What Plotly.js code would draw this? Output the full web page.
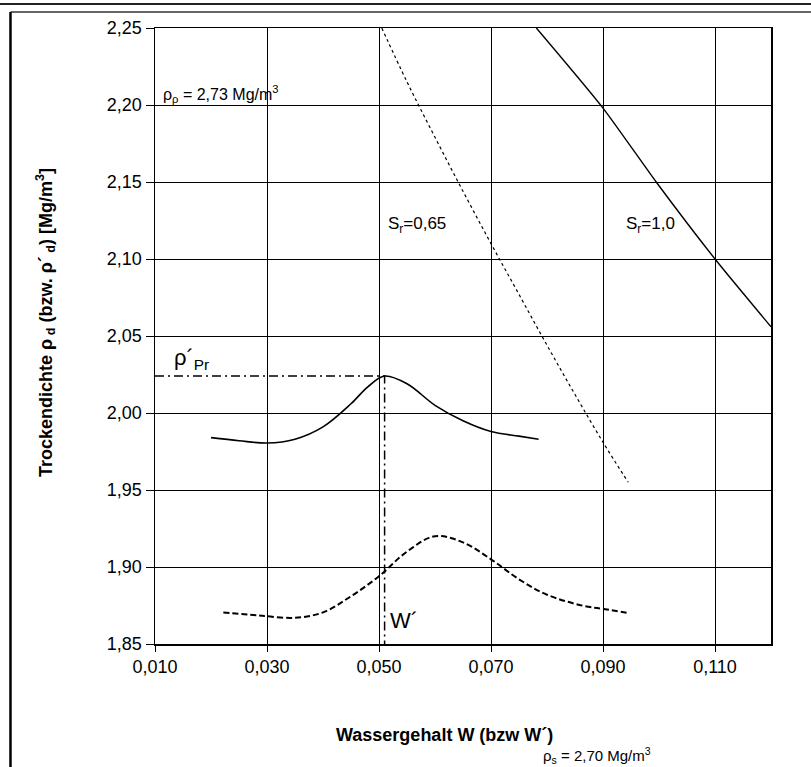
<!DOCTYPE html>
<html>
<head>
<meta charset="utf-8">
<script src="https://cdn.plot.ly/plotly-3.0.1.min.js"></script>
<style>html,body{margin:0;padding:0;background:#fff;}#chart{width:811px;height:767px;}</style>
</head>
<body>
<div id="chart"></div>
<script>
// Compaction curve W (solid)
const wX = [0.020, 0.025, 0.030, 0.035, 0.040, 0.045, 0.048, 0.051, 0.055, 0.060, 0.065, 0.070, 0.075, 0.0785];
const wY = [1.984, 1.982, 1.9805, 1.983, 1.991, 2.006, 2.017, 2.024, 2.019, 2.005, 1.995, 1.988, 1.985, 1.983];
// Compaction curve W' (dashed)
const wpX = [0.0222, 0.027, 0.030, 0.035, 0.040, 0.045, 0.050, 0.055, 0.060, 0.065, 0.070, 0.075, 0.080, 0.0866, 0.0904, 0.0946];
const wpY = [1.8705, 1.869, 1.868, 1.867, 1.8705, 1.881, 1.894, 1.910, 1.920, 1.916, 1.905, 1.892, 1.882, 1.8747, 1.8726, 1.870];
// Saturation line Sr = 0,65 (dotted)
const s65X = [0.0505, 0.055, 0.060, 0.065, 0.070, 0.075, 0.080, 0.085, 0.090, 0.0945];
const s65Y = [2.250, 2.215, 2.179, 2.144, 2.110, 2.077, 2.044, 2.012, 1.981, 1.955];
// Saturation line Sr = 1,0 (solid)
const s10X = [0.0781, 0.090, 0.0995, 0.110, 0.120];
const s10Y = [2.250, 2.198, 2.150, 2.100, 2.056];
// Proctor point construction lines (dash-dot)
const prX = [0.010, 0.051, 0.051];
const prY = [2.024, 2.024, 1.85];

const xTicks = [0.010, 0.030, 0.050, 0.070, 0.090, 0.110];
const xLabels = ["0,010", "0,030", "0,050", "0,070", "0,090", "0,110"];
const yTicks = [1.85, 1.90, 1.95, 2.00, 2.05, 2.10, 2.15, 2.20, 2.25];
const yLabels = ["1,85", "1,90", "1,95", "2,00", "2,05", "2,10", "2,15", "2,20", "2,25"];

const F = 'Liberation Sans, Arial, sans-serif';

const traces = [
  {x: wX, y: wY, mode: 'lines', line: {color: '#000', width: 1.6, shape: 'spline', smoothing: 1}, hoverinfo: 'skip'},
  {x: wpX, y: wpY, mode: 'lines', line: {color: '#000', width: 2, dash: '6px,3px', shape: 'spline', smoothing: 1}, hoverinfo: 'skip'},
  {x: s65X, y: s65Y, mode: 'lines', line: {color: '#000', width: 1.2, dash: '3px,3px', shape: 'spline'}, hoverinfo: 'skip'},
  {x: s10X, y: s10Y, mode: 'lines', line: {color: '#000', width: 1.4, shape: 'spline', smoothing: 0.6}, hoverinfo: 'skip'},
  {x: prX, y: prY, mode: 'lines', line: {color: '#000', width: 1.5, dash: '9px,4px,2px,4px'}, hoverinfo: 'skip'}
];

const layout = {
  width: 811, height: 767,
  margin: {l: 155, r: 40, t: 28, b: 123},
  paper_bgcolor: '#fff', plot_bgcolor: '#fff',
  showlegend: false,
  font: {family: F, color: '#000', size: 16},
  xaxis: {
    range: [0.010, 0.120], tickvals: xTicks, ticktext: xLabels,
    showgrid: true, gridcolor: '#000', gridwidth: 1,
    showline: true, linecolor: '#000', linewidth: 1.5, mirror: true,
    ticks: 'outside', ticklen: 6, tickcolor: '#000', tickwidth: 1,
    tickfont: {family: F, size: 18, color: '#000'}, zeroline: false
  },
  yaxis: {
    range: [1.85, 2.25], tickvals: yTicks, ticktext: yLabels,
    showgrid: true, gridcolor: '#000', gridwidth: 1,
    showline: true, linecolor: '#000', linewidth: 1.5, mirror: true,
    ticks: 'outside', ticklen: 8, tickcolor: '#000', tickwidth: 1,
    tickfont: {family: F, size: 18, color: '#000'}, zeroline: false
  },
  shapes: [
    {type: 'line', xref: 'paper', yref: 'paper', x0: -0.27, x1: 1.1, y0: 1.039, y1: 1.039, line: {color: '#222', width: 2}},
    {type: 'line', xref: 'paper', yref: 'paper', x0: -0.2346, x1: 1.1, y0: 1.026, y1: 1.026, line: {color: '#333', width: 1.5}},
    {type: 'line', xref: 'paper', yref: 'paper', x0: -0.2346, x1: -0.2346, y0: 1.026, y1: -0.3, line: {color: '#000', width: 2.5}}
  ],
  annotations: [
    {xref: 'paper', yref: 'paper', x: -0.1786, y: 0.5227, xanchor: 'center', yanchor: 'middle', showarrow: false, textangle: -90,
     text: '<b>Trockendichte ρ<sub> d</sub> (bzw. ρ´<sub> d</sub>) [Mg/m<sup>3</sup>]</b>', font: {size: 18}},
    {xref: 'x', yref: 'y', x: 0.0111, y: 2.207, xanchor: 'left', yanchor: 'middle', showarrow: false,
     text: 'ρ<sub>ρ</sub> = 2,73 Mg/m<sup>3</sup>', font: {size: 16}},
    {xref: 'x', yref: 'y', x: 0.0512, y: 2.122, xanchor: 'left', yanchor: 'middle', showarrow: false,
     text: 'S<sub>r</sub>=0,65', font: {size: 17}},
    {xref: 'x', yref: 'y', x: 0.0937, y: 2.122, xanchor: 'left', yanchor: 'middle', showarrow: false,
     text: 'S<sub>r</sub>=1,0', font: {size: 17}},
    {xref: 'x', yref: 'y', x: 0.0130, y: 2.035, xanchor: 'left', yanchor: 'middle', showarrow: false,
     text: 'ρ´<sub>Pr</sub>', font: {size: 22}},
    {xref: 'x', yref: 'y', x: 0.0516, y: 1.865, xanchor: 'left', yanchor: 'middle', showarrow: false,
     text: 'W´', font: {size: 22}},
    {xref: 'paper', yref: 'paper', x: 0.47, y: -0.147, xanchor: 'center', yanchor: 'middle', showarrow: false,
     text: '<b>Wassergehalt W (bzw W´)</b>', font: {size: 18}},
    {xref: 'paper', yref: 'paper', x: 0.627, y: -0.181, xanchor: 'left', yanchor: 'middle', showarrow: false,
     text: 'ρ<sub>s</sub> = 2,70 Mg/m<sup>3</sup>', font: {size: 15}}
  ]
};

Plotly.newPlot('chart', traces, layout, {staticPlot: true, displayModeBar: false});
</script>
</body>
</html>
